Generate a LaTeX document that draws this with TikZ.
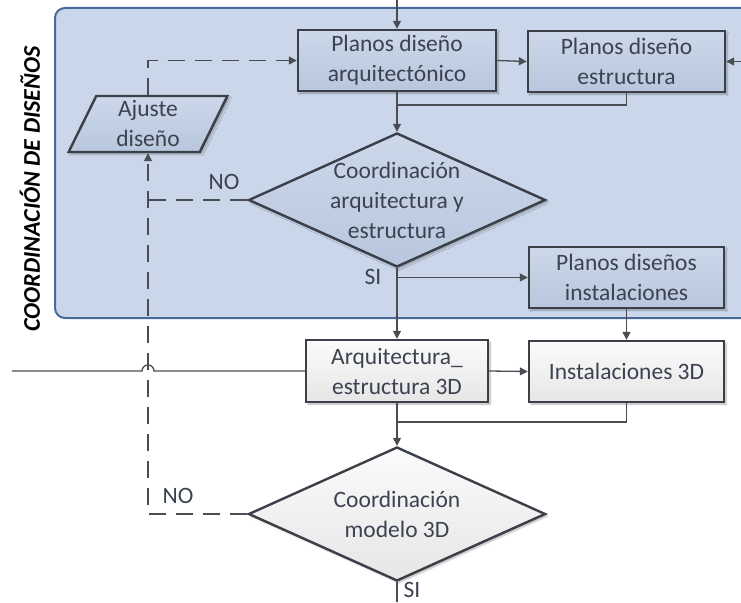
\documentclass[tikz,border=0pt]{standalone}
\usepackage{fontspec}
\setmainfont{Carlito}
\usetikzlibrary{shapes.geometric,arrows.meta,shadows.blur}
\definecolor{panelfill}{HTML}{CAD7EA}
\definecolor{panelborder}{HTML}{48699C}
\definecolor{bluetop}{HTML}{CCD8EA}
\definecolor{bluebot}{HTML}{B8C7DD}
\definecolor{graytop}{HTML}{FBFBFB}
\definecolor{graybot}{HTML}{E6E6E6}
\definecolor{bordc}{HTML}{3A3F48}
\definecolor{linec}{HTML}{4A4D52}
\definecolor{txtc}{HTML}{3B4250}
\begin{document}
\begin{tikzpicture}[x=1pt,y=-1pt,
  lbl/.style={text=txtc, font=\fontsize{23.5}{30}\selectfont, align=center},
  shd/.style={blur shadow={shadow blur steps=6, shadow xshift=2pt, shadow yshift=-2pt, shadow opacity=30}},
  box/.style={lbl, draw=bordc, line width=2.4pt, minimum height=61pt, shd},
  bluefill/.style={top color=bluetop, bottom color=bluebot},
  grayfill/.style={top color=graytop, bottom color=graybot},
  dia/.style={diamond, draw=bordc, line width=2.4pt, inner sep=0pt, minimum width=297pt, minimum height=134pt, shd},
  conn/.style={draw=linec, line width=1.3pt},
  arr/.style={conn, -{Triangle[length=8pt,width=8pt]}},
  dsh/.style={draw=linec, line width=1.6pt, dash pattern=on 17pt off 10pt},
  dsharr/.style={dsh, -{Triangle[length=8pt,width=8pt]}}
]
\useasboundingbox (0,0) rectangle (741,602);
\clip (0,0) rectangle (741,602);

% panel
\draw[fill=panelfill, draw=panelborder, line width=2pt, rounded corners=10pt] (55,8) rectangle (780,318);
\node[rotate=90, font=\fontsize{24}{28}\selectfont\bfseries\itshape, text=black] (title) at (30,189) {COORDINACIÓN DE DISEÑOS};

% nodes
\node[box, bluefill, minimum width=198pt] (A) at (397,60.5) {Planos diseño\\arquitectónico};
\node[box, bluefill, minimum width=197pt] (B) at (626.5,61.5) {Planos diseño\\estructura};
\node[box, bluefill, minimum width=195pt] (E) at (626.5,277.5) {Planos diseños\\instalaciones};
\node[box, grayfill, minimum width=182pt, minimum height=62pt] (C) at (397,371) {Arquitectura\_\\estructura 3D};
\node[box, grayfill, minimum width=195pt] (D) at (626.5,371.5) {Instalaciones 3D};
\node[dia, bluefill] (d1) at (397,200) {};
\node[lbl] (d1t) at (397,200) {Coordinación\\arquitectura y\\estructura};
\node[dia, grayfill] (d2) at (397,514) {};
\node[lbl] (d2t) at (397,514) {Coordinación\\modelo 3D};
\node[lbl, trapezium, trapezium left angle=68, trapezium right angle=112, trapezium stretches=true,
      draw=bordc, line width=2.4pt, bluefill, shd, minimum width=159pt, minimum height=56pt, inner ysep=0pt] (aj) at (148,124) {Ajuste\\diseño};

% free ends
\coordinate (topin) at (397,0);
\coordinate (rin) at (741,61.5);
\coordinate (lin) at (12,371);
\coordinate (bout) at (397,602);
\coordinate (j1) at (397,105);
\coordinate (j3) at (397,422);

% connectors
\draw[arr] (topin) -- (A.north);
\draw[arr] (A.east) -- (B.west);
\draw[arr] (rin) -- (B.east);
\draw[conn] (B.south) |- (j1);
\draw[arr] (A.south) -- (d1.north);
\draw[arr] (d1.south) -- (C.north);
\draw[arr] (d1.south |- E.west) -- (E.west);
\draw[arr] (E.south) -- (D.north);
\draw[arr] (C.east) -- (D.west);
\draw[conn] (lin) -- (142,371) arc[start angle=180, end angle=360, radius=6] -- (C.west);
\draw[conn] (D.south) |- (j3);
\draw[arr] (C.south) -- (d2.north);
\draw[conn] (d2.south) -- (bout);

% dashed
\draw[dsharr] (aj.north) |- (A.west);
\draw[dsh] (d1.west) -- (d1.west -| aj.south);
\draw[dsharr] (d2.west) -| (aj.south);

% labels
\node[lbl] (no1) at (224,182) {NO};
\node[lbl] (no2) at (178,496) {NO};
\node[lbl] (si1) at (373,277) {SI};
\node[lbl] (si2) at (412,590) {SI};
\end{tikzpicture}
\end{document}
